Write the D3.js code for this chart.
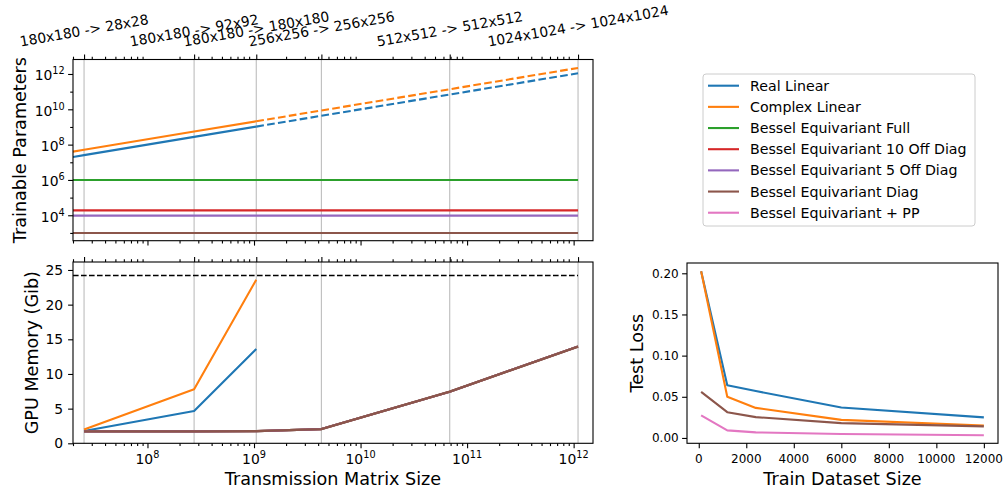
<!DOCTYPE html>
<html><head><meta charset="utf-8">
<script src="https://cdn.jsdelivr.net/npm/d3@7"></script>
<style>
body{margin:0;background:#fff}
svg{display:block}
text{font-family:"DejaVu Sans",sans-serif;fill:#000}
</style>
</head><body>
<svg id="c" width="1008" height="488"></svg>
<script>
// ---------------- data ----------------
const seriesNames = ["Real Linear", "Complex Linear", "Bessel Equivariant Full",
  "Bessel Equivariant 10 Off Diag", "Bessel Equivariant 5 Off Diag",
  "Bessel Equivariant Diag", "Bessel Equivariant + PP"];
const seriesColors = ["#1f77b4", "#ff7f0e", "#2ca02c", "#d62728", "#9467bd", "#8c564b", "#e377c2"];

// transmission matrix sizes (gridlines / top labels)
const matrixSizes = [2.54e7, 2.74e8, 1.05e9, 4.29e9, 6.87e10, 1.1e12];
const matrixLabels = ["180x180 -> 28x28", "180x180 -> 92x92", "180x180 -> 180x180",
  "256x256 -> 256x256", "512x512 -> 512x512", "1024x1024 -> 1024x1024"];

// trainable parameters (top panel)
const paramSizesSolid = [2.0e7, 2.54e7, 2.74e8, 1.05e9];
const paramSizesDashed = [1.05e9, 4.29e9, 6.87e10, 1.1e12];
const realParamsSolid = [2.0e7, 2.54e7, 2.74e8, 1.05e9];
const realParamsDashed = [1.05e9, 4.29e9, 6.87e10, 1.1e12];
const complexParamsSolid = [4.0e7, 5.08e7, 5.48e8, 2.1e9];
const complexParamsDashed = [2.1e9, 8.58e9, 1.37e11, 2.2e12];
const besselParamSizes = [2.0e7, 1.1e12];
const besselFullParams = [1.0e6, 1.0e6];
const bessel10Params = [1.9e4, 1.9e4];
const bessel5Params = [9.5e3, 9.5e3];
const besselDiagParams = [1.0e3, 1.0e3];

// GPU memory (bottom-left panel)
const memSizesLinear = [2.54e7, 2.74e8, 1.05e9];
const realMem = [1.78, 4.66, 13.6];
const complexMem = [2.0, 7.8, 23.6];
const memSizesBessel = [2.54e7, 2.74e8, 1.05e9, 4.29e9, 6.87e10, 1.1e12];
const besselFullMem = [1.72, 1.72, 1.75, 2.05, 7.45, 13.95];
const bessel10Mem = [1.72, 1.72, 1.75, 2.05, 7.45, 13.95];
const bessel5Mem = [1.72, 1.72, 1.75, 2.05, 7.45, 13.95];
const besselDiagMem = [1.72, 1.72, 1.75, 2.05, 7.45, 13.95];
const gpuLimitSizes = [2.0e7, 1.1e12];
const gpuLimit = [24.2, 24.2];

// test loss (right panel)
const trainSizes = [100, 1200, 2400, 6000, 12000];
const realLoss = [0.2025, 0.064, 0.057, 0.037, 0.025];
const complexLoss = [0.2025, 0.0501, 0.0365, 0.022, 0.0152];
const diagLoss = [0.056, 0.0313, 0.0253, 0.018, 0.014];
const ppLoss = [0.0275, 0.0092, 0.0068, 0.0048, 0.0033];

// tick values
const paramTicks = [1e4, 1e6, 1e8, 1e10, 1e12];
const paramMinorTicks = [1e3, 1e5, 1e7, 1e9, 1e11];
const sizeMajorTicks = [1e8, 1e9, 1e10, 1e11, 1e12];
const memTicks = [0, 5, 10, 15, 20, 25];
const trainTicks = [0, 2000, 4000, 6000, 8000, 10000, 12000];
const lossTicks = [0, 0.05, 0.10, 0.15, 0.20];

// ---------------- layout ----------------
const svg = d3.select("#c");
const FS_TICK = 13.9, FS_TICK_R = 12, FS_LABEL = 17.6, FS_LEG = 14.2, FS_TOP = 13.9;
const MAJ = 4.9, MIN = 2.8, PAD = 4.9;

const P1 = {l: 73, r: 593, t: 59.5, b: 240.7};
const P2 = {l: 73, r: 593, t: 262, b: 443.3};
const P3 = {l: 687, r: 998, t: 263, b: 443.3};

const xLog = d3.scaleLog().domain([2.0e7, 1.52e12]).range([P1.l, P1.r]);
const xLog2 = d3.scaleLog().domain([2.0e7, 1.52e12]).range([P2.l, P2.r]);
const yParams = d3.scaleLog().domain([Math.pow(10, 2.56), Math.pow(10, 12.82)]).range([P1.b, P1.t]);
const yMem = d3.scaleLinear().domain([0, 26.15]).range([P2.b, P2.t]);
const xTrain = d3.scaleLinear().domain([-495, 12595]).range([P3.l, P3.r]);
const yLoss = d3.scaleLinear().domain([-0.0065, 0.2125]).range([P3.b, P3.t]);

const minorLog = [];
for (let k = 7; k <= 12; k++) for (let m = 2; m <= 9; m++) {
  const v = m * Math.pow(10, k);
  if (v >= 2.0e7 && v <= 1.52e12) minorLog.push(v);
}

function clip(id, P) {
  svg.append("clipPath").attr("id", id).append("rect")
    .attr("x", P.l).attr("y", P.t).attr("width", P.r - P.l).attr("height", P.b - P.t);
}
clip("c1", P1); clip("c2", P2); clip("c3", P3);

function tickLines(g, axisFn, scale, values, len) {
  const a = g.append("g").call(axisFn(scale).tickValues(values).tickSize(len).tickFormat(""));
  a.select(".domain").remove();
  a.selectAll("line").attr("stroke", "#000").attr("stroke-width", 1.1);
  return a;
}
function frame(P) {
  svg.append("rect").attr("x", P.l).attr("y", P.t).attr("width", P.r - P.l).attr("height", P.b - P.t)
    .attr("fill", "none").attr("stroke", "#000").attr("stroke-width", 1.1);
}
function grid(P, xs) {
  svg.append("g").selectAll("line").data(matrixSizes).join("line")
    .attr("x1", d => xs(d)).attr("x2", d => xs(d)).attr("y1", P.t).attr("y2", P.b)
    .attr("stroke", "#bdbdbd").attr("stroke-width", 1.1);
}
function drawLine(clipId, xs, ys, xv, yv, color, dash, w) {
  const pts = xv.map((x, i) => [x, yv[i]]);
  svg.append("path").attr("clip-path", `url(#${clipId})`)
    .attr("d", d3.line().x(d => xs(d[0])).y(d => ys(d[1]))(pts))
    .attr("fill", "none").attr("stroke", color).attr("stroke-width", w || 2.1)
    .attr("stroke-dasharray", dash || null).attr("stroke-linejoin", "round");
}
function supText(sel, base, exp, fs) {
  sel.append("tspan").text(base);
  sel.append("tspan").attr("font-size", fs * 0.7).attr("dy", -fs * 0.42).text(exp);
}

// ---------------- panel 1: trainable parameters ----------------
grid(P1, xLog);
drawLine("c1", xLog, yParams, paramSizesSolid, realParamsSolid, seriesColors[0]);
drawLine("c1", xLog, yParams, paramSizesDashed, realParamsDashed, seriesColors[0], "7.7,3.3");
drawLine("c1", xLog, yParams, paramSizesSolid, complexParamsSolid, seriesColors[1]);
drawLine("c1", xLog, yParams, paramSizesDashed, complexParamsDashed, seriesColors[1], "7.7,3.3");
drawLine("c1", xLog, yParams, besselParamSizes, besselFullParams, seriesColors[2]);
drawLine("c1", xLog, yParams, besselParamSizes, bessel10Params, seriesColors[3]);
drawLine("c1", xLog, yParams, besselParamSizes, bessel5Params, seriesColors[4]);
drawLine("c1", xLog, yParams, besselParamSizes, besselDiagParams, seriesColors[5]);
frame(P1);
let g = svg.append("g").attr("transform", `translate(0,${P1.b})`);
tickLines(g, d3.axisBottom, xLog, sizeMajorTicks, MAJ);
tickLines(g, d3.axisBottom, xLog, minorLog, MIN);
g = svg.append("g").attr("transform", `translate(0,${P1.t})`);
tickLines(g, d3.axisTop, xLog, minorLog, MIN);
tickLines(g, d3.axisTop, xLog, matrixSizes, MAJ);
g = svg.append("g").attr("transform", `translate(${P1.l},0)`);
tickLines(g, d3.axisLeft, yParams, paramTicks, MAJ);
tickLines(g, d3.axisLeft, yParams, paramMinorTicks, MIN);
paramTicks.forEach(v => {
  const t = svg.append("text").attr("x", P1.l - MAJ - PAD + 1.5).attr("y", yParams(v) + 6.3)
    .attr("text-anchor", "end").attr("font-size", FS_TICK);
  supText(t, "10", String(Math.round(Math.log10(v))), FS_TICK);
});
// top tick labels (rotated 10 degrees, bbox bottom above the top ticks)
matrixLabels.forEach((lab, i) => {
  const t = svg.append("text").attr("font-size", FS_TOP).attr("text-anchor", "middle")
    .attr("dominant-baseline", "central").text(lab);
  const w = t.node().getComputedTextLength();
  const h = FS_TOP * 1.17;
  const a = 10 * Math.PI / 180;
  const H = w * Math.sin(a) + h * Math.cos(a);
  const cx = xLog(matrixSizes[i]);
  const cy = P1.t - MAJ - PAD - H / 2;
  t.attr("transform", `translate(${cx},${cy}) rotate(-10)`);
});
svg.append("text").attr("transform", `translate(25.5,${(P1.t + P1.b) / 2}) rotate(-90)`)
  .attr("text-anchor", "middle").attr("font-size", FS_LABEL).text("Trainable Parameters");

// ---------------- panel 2: GPU memory ----------------
grid(P2, xLog2);
drawLine("c2", xLog2, yMem, gpuLimitSizes, gpuLimit, "#000", "5.6,2.4", 1.5);
drawLine("c2", xLog2, yMem, memSizesLinear, realMem, seriesColors[0]);
drawLine("c2", xLog2, yMem, memSizesLinear, complexMem, seriesColors[1]);
drawLine("c2", xLog2, yMem, memSizesBessel, besselFullMem, seriesColors[2]);
drawLine("c2", xLog2, yMem, memSizesBessel, bessel10Mem, seriesColors[3]);
drawLine("c2", xLog2, yMem, memSizesBessel, bessel5Mem, seriesColors[4]);
drawLine("c2", xLog2, yMem, memSizesBessel, besselDiagMem, seriesColors[5], null, 2.4);
frame(P2);
g = svg.append("g").attr("transform", `translate(0,${P2.b})`);
tickLines(g, d3.axisBottom, xLog2, sizeMajorTicks, MAJ);
tickLines(g, d3.axisBottom, xLog2, minorLog, MIN);
g = svg.append("g").attr("transform", `translate(0,${P2.t})`);
tickLines(g, d3.axisTop, xLog2, minorLog, MIN);
tickLines(g, d3.axisTop, xLog2, matrixSizes, MAJ);
sizeMajorTicks.forEach(v => {
  const t = svg.append("text").attr("x", xLog2(v)).attr("y", P2.b + 20.3)
    .attr("text-anchor", "middle").attr("font-size", FS_TICK);
  supText(t, "10", String(Math.round(Math.log10(v))), FS_TICK);
});
g = svg.append("g").attr("transform", `translate(${P2.l},0)`);
tickLines(g, d3.axisLeft, yMem, memTicks, MAJ);
memTicks.forEach(v => {
  svg.append("text").attr("x", P2.l - MAJ - PAD).attr("y", yMem(v) + 5)
    .attr("text-anchor", "end").attr("font-size", FS_TICK).text(String(v));
});
svg.append("text").attr("transform", `translate(37.8,${(P2.t + P2.b) / 2}) rotate(-90)`)
  .attr("text-anchor", "middle").attr("font-size", FS_LABEL).text("GPU Memory (Gib)");
svg.append("text").attr("x", (P2.l + P2.r) / 2).attr("y", 484.5)
  .attr("text-anchor", "middle").attr("font-size", FS_LABEL).text("Transmission Matrix Size");

// ---------------- panel 3: test loss ----------------
drawLine("c3", xTrain, yLoss, trainSizes, realLoss, seriesColors[0]);
drawLine("c3", xTrain, yLoss, trainSizes, complexLoss, seriesColors[1]);
drawLine("c3", xTrain, yLoss, trainSizes, diagLoss, seriesColors[5]);
drawLine("c3", xTrain, yLoss, trainSizes, ppLoss, seriesColors[6]);
frame(P3);
g = svg.append("g").attr("transform", `translate(0,${P3.b})`);
tickLines(g, d3.axisBottom, xTrain, trainTicks, MAJ);
trainTicks.forEach(v => {
  svg.append("text").attr("x", xTrain(v)).attr("y", P3.b + 20)
    .attr("text-anchor", "middle").attr("font-size", FS_TICK_R).text(String(v));
});
g = svg.append("g").attr("transform", `translate(${P3.l},0)`);
tickLines(g, d3.axisLeft, yLoss, lossTicks, MAJ);
lossTicks.forEach(v => {
  svg.append("text").attr("x", P3.l - MAJ - PAD + 1.5).attr("y", yLoss(v) + 4.4)
    .attr("text-anchor", "end").attr("font-size", FS_TICK_R).text(v.toFixed(2));
});
svg.append("text").attr("transform", `translate(642.8,${(P3.t + P3.b) / 2}) rotate(-90)`)
  .attr("text-anchor", "middle").attr("font-size", FS_LABEL).text("Test Loss");
svg.append("text").attr("x", (P3.l + P3.r) / 2).attr("y", 484.5)
  .attr("text-anchor", "middle").attr("font-size", FS_LABEL).text("Train Dataset Size");

// ---------------- legend ----------------
const leg = svg.append("g");
leg.append("rect").attr("x", 703).attr("y", 74).attr("width", 272).attr("height", 152)
  .attr("rx", 3).attr("fill", "#fff").attr("stroke", "#cccccc").attr("stroke-width", 1);
seriesNames.forEach((n, i) => {
  const y = 85.7 + i * 21.17;
  leg.append("line").attr("x1", 708).attr("x2", 739).attr("y1", y).attr("y2", y)
    .attr("stroke", seriesColors[i]).attr("stroke-width", 2.1);
  leg.append("text").attr("x", 750).attr("y", y + 5.1).attr("font-size", FS_LEG).text(n);
});
</script>
</body></html>
